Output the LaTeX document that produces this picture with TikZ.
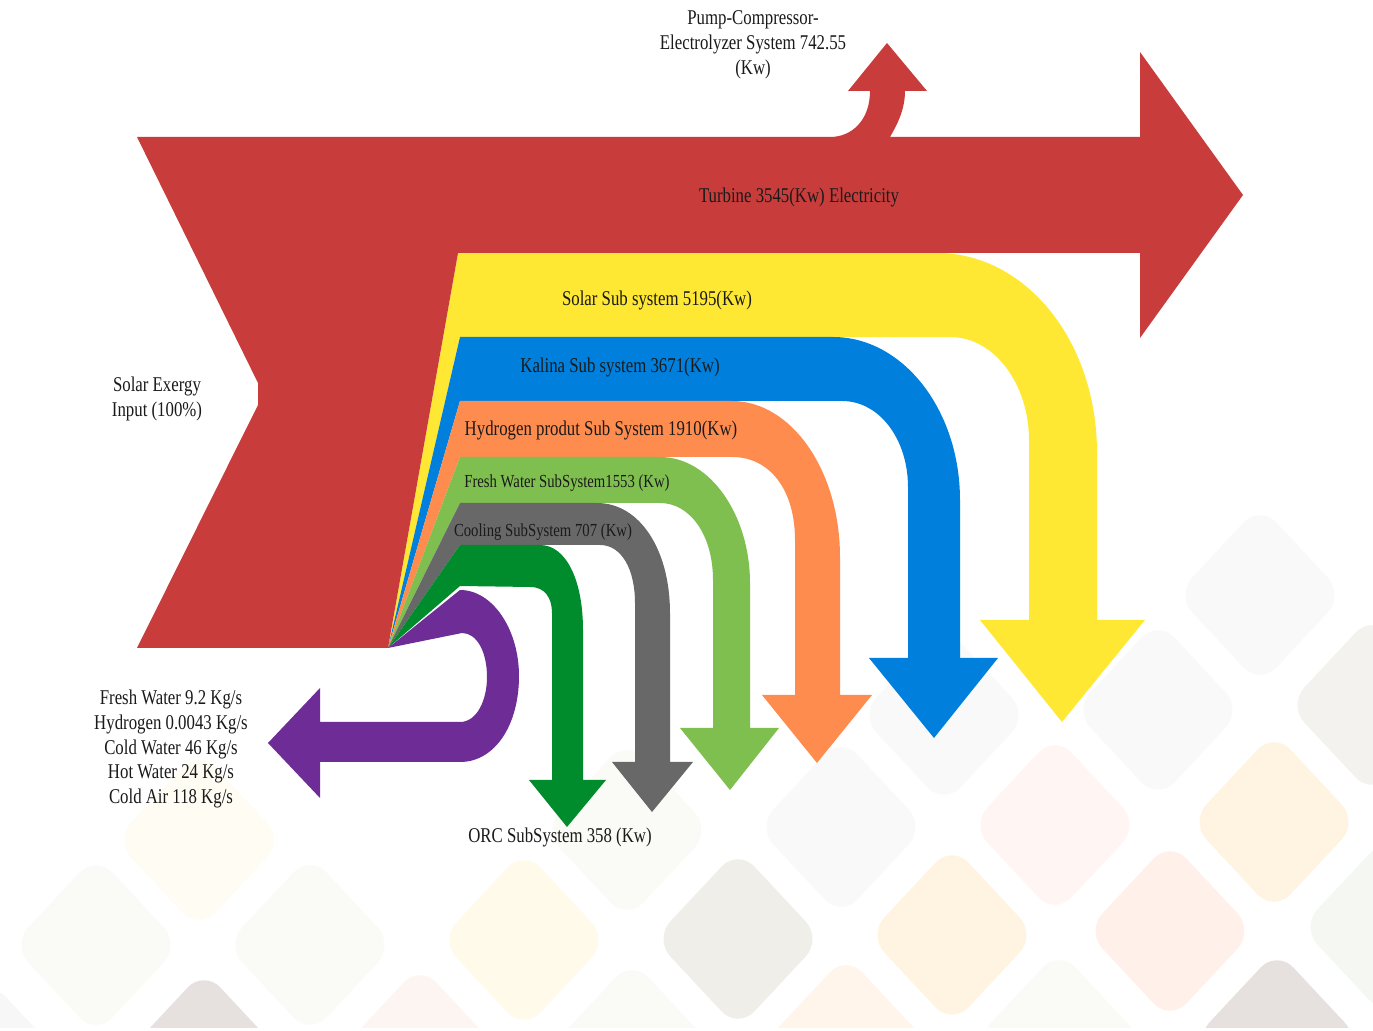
\documentclass[tikz,border=0pt]{standalone}
\usepackage{fontspec}
\setmainfont{Liberation Serif}
\newfontfamily\condfont{Liberation Serif}[FakeStretch=0.8]
\definecolor{cred}{HTML}{C83D3B}
\definecolor{cyel}{HTML}{FFE833}
\definecolor{cblu}{HTML}{0080DC}
\definecolor{cora}{HTML}{FF8C4F}
\definecolor{clgr}{HTML}{7FBF4F}
\definecolor{cgry}{HTML}{686868}
\definecolor{cdgr}{HTML}{008C2C}
\definecolor{cpur}{HTML}{6E2C96}
\definecolor{ctxt}{HTML}{1A1A1A}
\definecolor{bga}{HTML}{F9F9F9}
\definecolor{bgb}{HTML}{F4F2EE}
\definecolor{bgc}{HTML}{FFFCF3}
\definecolor{bgd}{HTML}{FAFAF6}
\definecolor{bge}{HTML}{FFF5F3}
\definecolor{bgf}{HTML}{FFF4E2}
\definecolor{bgg}{HTML}{FFFAEA}
\definecolor{bgh}{HTML}{F0EEE9}
\definecolor{bgi}{HTML}{FFF1EA}
\definecolor{bgj}{HTML}{F5F7F3}
\definecolor{bgk}{HTML}{E6E1DE}
\definecolor{bgl}{HTML}{FDF5F2}
\definecolor{bgm}{HTML}{FFF5EB}
\definecolor{bgn}{HTML}{F7F7F7}
\newcommand\bgdiamond[3]{\fill[#3,rounded corners=12pt] ({#1-84},{#2}) -- ({#1},{#2-90}) -- ({#1+84},{#2}) -- ({#1},{#2+90}) -- cycle;}
\tikzset{
  lab/.style={font=\condfont\fontsize{10.5}{12.4}\selectfont, align=center, text=ctxt, inner sep=0pt},
  labsmall/.style={font=\condfont\fontsize{9.2}{11}\selectfont, align=center, text=ctxt, inner sep=0pt}
}
\begin{document}
\begin{tikzpicture}[x=0.5pt,y=-0.5pt]
\useasboundingbox (0,0) rectangle (1373,1031);
\fill[white] (0,0) rectangle (1373,1031);
% background pattern
\begin{scope}
\clip (0,0) rectangle (1373,1028);
\bgdiamond{1260}{595}{bga}
\bgdiamond{944}{715}{bga}
\bgdiamond{1158}{710}{bga}
\bgdiamond{1372}{705}{bgb}
\bgdiamond{199}{840}{bgc}
\bgdiamond{627}{830}{bgd}
\bgdiamond{841}{827}{bga}
\bgdiamond{1055}{825}{bge}
\bgdiamond{1274}{822}{bgf}
\bgdiamond{96}{945}{bgd}
\bgdiamond{310}{945}{bgd}
\bgdiamond{524}{940}{bgg}
\bgdiamond{738}{939}{bgh}
\bgdiamond{952}{935}{bgf}
\bgdiamond{1170}{931}{bgi}
\bgdiamond{1385}{927}{bgj}
\bgdiamond{-10}{1070}{bgn}
\bgdiamond{204}{1060}{bgk}
\bgdiamond{420}{1055}{bgl}
\bgdiamond{632}{1050}{bgd}
\bgdiamond{846}{1045}{bgm}
\bgdiamond{1059}{1040}{bgd}
\bgdiamond{1277}{1040}{bgk}
\end{scope}
\coordinate (O) at (388,648);
% yellow
\fill[cyel] (O) -- (458,253) -- (937,253) .. controls (1025,253) and (1097,340) .. (1097,453)
  -- (1097,620) -- (1145,620) -- (1062,722) -- (980,620) -- (1029,620) -- (1029,440)
  .. controls (1029,385) and (995,337) .. (950,337) -- (460,337) -- cycle;
% blue
\fill[cblu] (O) -- (460,337) -- (833,337) .. controls (903,337) and (960,410) .. (960,500)
  -- (960,658) -- (998,658) -- (934,738) -- (869,658) -- (908,658) -- (908,487)
  .. controls (908,440) and (880,401) .. (842,401) -- (460,401) -- cycle;
% orange
\fill[cora] (O) -- (460,401) -- (732,401) .. controls (791,401) and (840,470) .. (840,557)
  -- (840,695) -- (872,695) -- (817,763) -- (762,695) -- (795,695) -- (795,540)
  .. controls (795,490) and (770,457) .. (732,457) -- (460,457) -- cycle;
% light green
\fill[clgr] (O) -- (460,457) -- (660,457) .. controls (710,457) and (750,515) .. (750,583)
  -- (750,728) -- (779,728) -- (730,790) -- (680,728) -- (713,728) -- (713,580)
  .. controls (713,535) and (690,503) .. (660,503) -- (460,503) -- cycle;
% gray
\fill[cgry] (O) -- (460,503) -- (597,503) .. controls (640,503) and (670,550) .. (670,613)
  -- (670,762) -- (693,762) -- (652,812) -- (612,762) -- (635,762) -- (635,603)
  .. controls (635,570) and (622,545) .. (600,545) -- (460,545) -- cycle;
% dark green
\fill[cdgr] (O) -- (460,545) -- (540,545) .. controls (566,545) and (583,580) .. (583,630)
  -- (583,780) -- (606,780) -- (567,827) -- (529,780) -- (552,780) -- (552,613)
  .. controls (552,598) and (545,587) .. (530,587) -- (460,586) -- cycle;
% purple
\fill[cpur] (O) -- (460,590) .. controls (493,590) and (519,630) .. (519,676)
  .. controls (519,725) and (495,762) .. (460,762) -- (320,762) -- (320,798) -- (268,743)
  -- (320,688) -- (320,722) -- (460,722) .. controls (477,722) and (487,700) .. (487,677)
  .. controls (487,652) and (477,633) .. (462,633) -- cycle;
% red main
\fill[cred] (137,137) -- (830,137) .. controls (852,137) and (870,120) .. (870,91)
  -- (848,91) -- (887,43) -- (927,91) -- (905,91) .. controls (905,112) and (895,128) .. (890,137)
  -- (1140,137) -- (1140,52) -- (1243,195) -- (1140,338) -- (1140,253) -- (458,253)
  -- (O) -- (137,648) -- (258,405) -- (258,383) -- cycle;
% labels
\node[lab] (pump) at (753,45) {Pump-Compressor-\\Electrolyzer System 742.55\\(Kw)};
\node[lab] (turb) at (799,197) {Turbine 3545(Kw) Electricity};
\node[lab] (solar) at (657,300) {Solar Sub system 5195(Kw)};
\node[lab] (kal) at (620,367) {Kalina Sub system 3671(Kw)};
\node[lab] (hyd) at (601,430) {Hydrogen produt Sub System 1910(Kw)};
\node[labsmall] (fw) at (567,483) {Fresh Water SubSystem1553 (Kw)};
\node[labsmall] (cool) at (543,532) {Cooling SubSystem 707 (Kw)};
\node[lab] (inp) at (157,399) {Solar Exergy\\Input (100\%)};
\node[lab] (out) at (171,749) {Fresh Water 9.2 Kg/s\\Hydrogen 0.0043 Kg/s\\Cold Water 46 Kg/s\\Hot Water 24 Kg/s\\Cold Air 118 Kg/s};
\node[lab] (orc) at (560,837) {ORC SubSystem 358 (Kw)};
\end{tikzpicture}
\end{document}
